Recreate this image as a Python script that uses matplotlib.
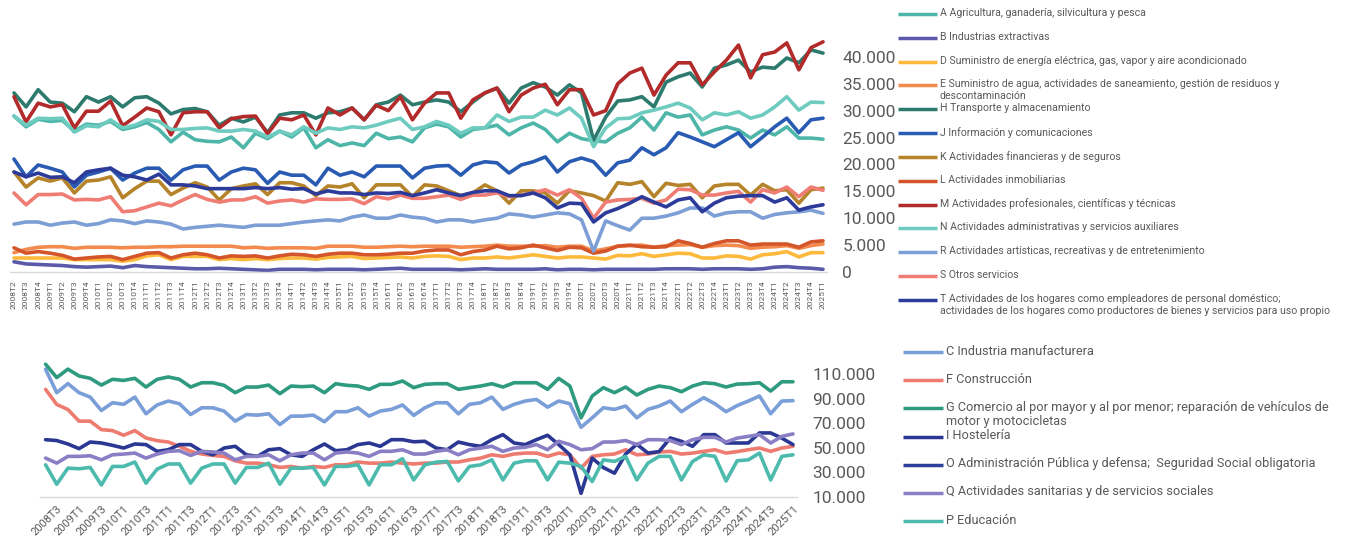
import matplotlib
matplotlib.use("Agg")
import matplotlib.pyplot as plt
from matplotlib.lines import Line2D
import numpy as np

plt.rcParams['font.family'] = ['Roboto', 'DejaVu Sans']

W, H = 1357, 538
GRAY = '#595959'
AXIS = '#D9D9D9'

# trimestres 2008T2 .. 2025T1
quarters = [f"{y}T{q}" for y in range(2008, 2026) for q in range(1, 5)][1:69]

# ---- panel superior (miles) ----
a_agri = [29.0, 27.0, 28.4, 28.0, 28.2, 26.2, 27.5, 27.3, 28.0, 26.5, 27.0, 27.8, 26.5, 24.2, 26.0, 24.6, 24.3,
          24.2, 25.1, 23.1, 25.8, 24.8, 26.2, 25.1, 26.8, 23.1, 24.6, 23.5, 24.0, 23.5, 25.8, 24.8, 25.1, 24.2,
          26.8, 27.5, 27.0, 25.1, 26.5, 26.8, 27.3, 25.5, 26.8, 27.7, 26.5, 24.2, 25.8, 24.8, 24.4, 24.2, 25.8,
          26.8, 28.8, 26.4, 29.6, 28.8, 29.2, 25.5, 26.4, 27.0, 26.4, 24.9, 26.4, 25.5, 27.0, 24.9, 24.9, 24.7]
b_extr = [1.9, 1.5, 1.4, 1.3, 1.2, 1.0, 0.9, 1.0, 1.1, 0.8, 1.2, 1.0, 0.9, 0.8, 0.7, 0.6, 0.6,
          0.7, 0.6, 0.5, 0.4, 0.3, 0.5, 0.5, 0.5, 0.4, 0.5, 0.5, 0.5, 0.4, 0.5, 0.6, 0.7, 0.5,
          0.5, 0.5, 0.5, 0.4, 0.5, 0.6, 0.5, 0.5, 0.5, 0.5, 0.6, 0.4, 0.5, 0.5, 0.4, 0.5, 0.5,
          0.5, 0.5, 0.5, 0.6, 0.6, 0.6, 0.5, 0.6, 0.6, 0.6, 0.5, 0.6, 0.9, 1.0, 0.8, 0.7, 0.5]
d_energia = [2.6, 2.6, 2.6, 2.6, 2.6, 2.3, 2.3, 2.3, 2.3, 2.0, 2.3, 3.0, 3.2, 2.3, 2.9, 2.9, 2.9,
             2.3, 2.5, 2.3, 2.5, 2.3, 2.5, 2.6, 2.6, 2.4, 2.7, 2.8, 2.9, 2.5, 2.6, 2.7, 2.8, 2.6,
             2.9, 3.0, 2.9, 2.3, 2.6, 2.6, 2.8, 2.6, 2.9, 3.2, 2.9, 2.6, 2.8, 2.8, 2.6, 2.4, 3.1,
             3.0, 3.4, 2.9, 3.2, 3.5, 3.4, 2.6, 2.6, 3.0, 2.9, 2.4, 3.2, 3.4, 3.8, 2.8, 3.6, 3.6]
e_agua = [3.6, 4.2, 4.6, 4.7, 4.7, 4.4, 4.6, 4.6, 4.6, 4.5, 4.6, 4.6, 4.7, 4.7, 4.8, 4.8, 4.8,
          4.8, 4.8, 4.5, 4.6, 4.4, 4.5, 4.5, 4.5, 4.4, 4.8, 4.8, 4.8, 4.6, 4.6, 4.7, 4.8, 4.7,
          4.8, 4.8, 4.8, 4.6, 4.7, 4.8, 5.0, 4.8, 4.8, 4.8, 4.9, 4.6, 4.8, 4.8, 3.9, 4.3, 4.8,
          4.9, 5.0, 4.6, 4.9, 5.0, 5.1, 4.6, 4.9, 5.0, 4.9, 4.4, 4.6, 4.7, 4.9, 4.4, 4.9, 5.2]
h_transp = [33.3, 30.7, 33.9, 31.6, 31.4, 29.8, 32.6, 31.6, 32.6, 30.7, 32.4, 32.6, 31.4, 29.4, 30.2, 30.4, 29.8,
            27.3, 28.6, 27.9, 28.8, 25.9, 29.2, 29.6, 29.6, 28.6, 29.6, 29.8, 30.5, 28.3, 31.1, 31.6, 32.9, 31.1,
            31.6, 32.0, 31.6, 29.8, 31.6, 33.3, 34.2, 31.4, 34.2, 35.2, 34.4, 32.9, 34.8, 33.3, 24.5, 28.8, 31.8,
            32.0, 32.6, 30.7, 35.3, 36.3, 37.0, 34.4, 37.9, 38.5, 39.4, 37.2, 38.1, 37.9, 39.8, 38.9, 41.3, 40.7]
j_info = [21.0, 17.7, 19.9, 19.3, 18.6, 15.8, 18.0, 18.6, 19.3, 17.1, 18.4, 19.3, 19.3, 17.1, 19.0, 19.7, 19.7,
          17.1, 18.6, 19.3, 19.0, 16.5, 18.6, 18.0, 18.0, 16.2, 19.3, 18.0, 18.6, 17.7, 19.7, 19.7, 19.7, 17.5,
          19.3, 19.7, 19.8, 18.0, 19.9, 20.5, 20.3, 18.4, 19.9, 20.5, 21.4, 18.6, 20.5, 21.2, 20.5, 18.0, 20.3,
          20.8, 23.1, 21.8, 23.1, 25.9, 25.1, 24.2, 23.3, 24.6, 25.9, 23.3, 25.1, 27.0, 28.6, 25.9, 28.3, 28.6]
k_finan = [18.6, 15.8, 17.5, 16.9, 17.5, 14.7, 16.9, 17.1, 17.7, 13.8, 15.5, 16.9, 16.9, 14.4, 15.6, 16.6, 15.8,
           13.4, 15.5, 16.0, 16.4, 14.4, 16.6, 16.6, 16.0, 14.2, 16.0, 15.8, 16.4, 13.8, 16.2, 16.2, 16.2, 14.0,
           16.2, 16.0, 15.1, 14.2, 14.7, 16.2, 15.1, 12.8, 15.1, 15.1, 14.7, 12.8, 15.1, 14.7, 14.2, 13.2, 16.6,
           16.3, 16.8, 14.0, 16.5, 16.1, 16.3, 13.8, 16.0, 16.3, 16.3, 14.3, 16.3, 15.1, 15.3, 12.8, 15.3, 15.6]
l_inmob = [4.5, 3.5, 3.8, 3.5, 3.1, 2.4, 2.6, 2.8, 2.9, 2.3, 2.9, 3.5, 3.6, 2.6, 3.2, 3.5, 3.2,
           2.6, 3.0, 2.9, 3.0, 2.6, 3.0, 3.3, 3.2, 2.9, 3.3, 3.5, 3.5, 3.2, 3.2, 3.3, 3.5, 3.5,
           3.9, 4.1, 4.1, 3.2, 3.8, 4.1, 4.8, 4.3, 4.5, 5.0, 4.5, 4.0, 4.6, 4.5, 3.5, 3.9, 4.8,
           5.0, 4.7, 4.6, 4.7, 5.8, 5.3, 4.6, 5.3, 5.8, 5.8, 5.0, 5.2, 5.2, 5.2, 4.6, 5.6, 5.8]
m_prof = [32.6, 27.9, 31.4, 30.7, 31.1, 26.8, 29.9, 29.9, 31.8, 27.2, 28.8, 30.5, 29.8, 25.5, 29.6, 29.8, 29.8,
          26.8, 28.5, 28.9, 29.0, 25.7, 28.6, 28.3, 29.2, 25.5, 30.5, 29.2, 30.5, 28.3, 31.0, 30.0, 32.6, 28.3,
          31.4, 33.3, 33.3, 28.6, 32.0, 33.3, 34.2, 29.8, 32.9, 34.2, 34.9, 31.1, 33.9, 33.9, 29.2, 30.0, 35.0,
          37.0, 37.9, 32.9, 36.6, 38.9, 38.9, 34.8, 37.2, 39.4, 42.2, 36.1, 40.4, 40.9, 42.6, 37.6, 41.7, 42.8]
n_admin = [29.0, 27.3, 28.6, 28.5, 28.6, 26.0, 27.2, 27.0, 28.3, 26.8, 27.3, 28.3, 28.0, 26.5, 26.5, 26.7, 26.8,
           26.2, 26.2, 26.5, 26.2, 25.1, 26.2, 25.5, 27.0, 25.8, 26.8, 26.5, 27.0, 26.8, 27.3, 28.0, 28.6, 26.5,
           27.0, 28.0, 27.3, 25.8, 26.8, 26.8, 29.2, 28.0, 28.8, 28.8, 30.1, 29.2, 30.5, 28.6, 23.3, 26.8, 28.5,
           28.6, 29.6, 30.1, 30.7, 31.4, 30.5, 28.3, 29.6, 29.2, 29.8, 28.6, 29.2, 30.7, 32.6, 30.1, 31.6, 31.5]
r_artis = [8.9, 9.3, 9.3, 8.7, 9.1, 9.3, 8.7, 9.0, 9.7, 9.5, 9.0, 9.5, 9.3, 8.9, 8.0, 8.3, 8.5,
           8.7, 8.5, 8.3, 8.7, 8.7, 8.7, 9.0, 9.3, 9.5, 9.7, 9.5, 10.2, 10.6, 10.0, 10.0, 10.6, 10.2,
           10.0, 9.3, 9.7, 9.7, 9.3, 9.7, 10.0, 10.8, 10.6, 10.2, 10.6, 11.0, 10.8, 9.7, 3.9, 9.5, 8.6,
           7.8, 10.0, 10.0, 10.4, 11.0, 11.9, 11.9, 10.4, 11.0, 11.2, 11.2, 10.0, 10.7, 11.0, 11.2, 11.5, 10.9]
s_otros = [14.7, 12.5, 14.4, 14.4, 14.5, 13.4, 13.5, 13.4, 14.0, 11.2, 11.4, 12.1, 12.8, 12.3, 13.4, 14.4, 13.5,
           13.0, 13.4, 13.4, 14.0, 12.8, 13.2, 13.4, 13.0, 13.6, 13.5, 13.5, 13.6, 12.7, 14.0, 13.6, 14.3, 13.7,
           13.7, 14.0, 14.3, 13.5, 14.3, 14.3, 14.7, 14.0, 14.3, 14.7, 15.3, 14.3, 15.3, 13.7, 10.0, 13.0, 13.4,
           13.5, 13.7, 12.8, 13.4, 15.4, 15.3, 14.3, 14.3, 14.7, 15.0, 13.0, 15.3, 14.7, 15.8, 14.0, 15.8, 15.2]
t_hogar = [18.6, 17.7, 18.4, 17.6, 17.7, 16.6, 18.6, 19.0, 19.3, 18.0, 17.7, 17.1, 18.2, 16.2, 16.2, 16.0, 15.5,
           15.5, 15.5, 15.5, 15.7, 15.5, 15.7, 15.4, 15.5, 14.5, 15.1, 14.7, 14.7, 14.4, 14.7, 14.6, 14.8, 14.2,
           14.7, 15.3, 14.7, 14.2, 14.8, 15.1, 15.1, 14.2, 14.2, 14.7, 13.8, 11.9, 12.8, 12.7, 9.3, 11.0, 11.8,
           12.8, 14.0, 13.0, 12.1, 13.4, 13.8, 11.2, 12.8, 13.8, 14.1, 14.2, 14.2, 13.0, 13.8, 11.5, 12.1, 12.5]

top_labels = [
    "A Agricultura, ganadería, silvicultura y pesca",
    "B Industrias extractivas",
    "D Suministro de energía eléctrica, gas, vapor y aire acondicionado",
    "E Suministro de agua, actividades de saneamiento, gestión de residuos y\ndescontaminación",
    "H Transporte y almacenamiento",
    "J Información y comunicaciones",
    "K Actividades financieras y de seguros",
    "L Actividades inmobiliarias",
    "M Actividades profesionales, científicas y técnicas",
    "N Actividades administrativas y servicios auxiliares",
    "R Actividades artísticas, recreativas y de entretenimiento",
    "S Otros servicios",
    "T Actividades de los hogares como empleadores de personal doméstico;\n"
    "actividades de los hogares como productores de bienes y servicios para uso propio",
]
top_values = [a_agri, b_extr, d_energia, e_agua, h_transp, j_info, k_finan,
              l_inmob, m_prof, n_admin, r_artis, s_otros, t_hogar]
top_colors = ['#4DB6A9', '#5B5AA8', '#FDB93C', '#F38B4F', '#2D7B6E', '#2A5BB3', '#B5832A',
              '#D4552A', '#B22A2A', '#6ECBBF', '#7D9FD6', '#EF7D74', '#2C3A9A']

# ---- panel inferior (miles) ----
c_industria = [114.1, 95.0, 102.4, 95.0, 91.4, 80.5, 86.8, 85.5, 91.4, 77.8, 85.0, 88.2, 86.0, 77.2, 82.7, 82.7, 80.0,
               71.8, 77.2, 76.7, 77.8, 69.0, 75.9, 75.9, 76.7, 71.3, 79.5, 79.5, 82.7, 75.9, 80.0, 81.4, 85.0, 76.5,
               82.7, 86.8, 86.8, 77.8, 85.5, 86.8, 91.4, 81.4, 85.5, 88.2, 89.5, 83.2, 88.2, 86.0, 66.8, 74.5, 82.7,
               81.4, 84.1, 74.5, 81.4, 84.1, 88.2, 79.5, 85.5, 90.9, 86.0, 79.5, 84.5, 88.2, 92.3, 77.8, 88.2, 88.5]
f_construccion = [97.7, 85.4, 81.3, 71.8, 71.8, 64.9, 64.1, 60.3, 64.1, 58.1, 55.9, 54.8, 51.3, 47.2, 45.0, 43.9, 43.1,
                  39.5, 37.6, 37.6, 36.3, 34.1, 34.9, 33.5, 34.9, 34.1, 36.3, 36.3, 38.5, 37.6, 37.6, 38.5, 37.6, 36.9,
                  37.6, 37.6, 38.5, 38.5, 40.3, 41.7, 44.4, 43.1, 45.0, 45.8, 45.8, 43.1, 45.8, 44.4, 33.5, 43.1, 44.4,
                  45.0, 48.5, 44.4, 45.0, 46.7, 47.2, 45.0, 45.8, 47.2, 48.5, 45.8, 47.0, 48.5, 49.9, 47.2, 49.9, 51.3]
g_comercio = [118.2, 107.3, 114.2, 108.6, 106.7, 101.2, 105.9, 105.0, 106.7, 99.6, 105.9, 107.8, 105.9, 99.6, 103.1,
              103.1, 101.0, 95.0, 99.6, 99.6, 101.2, 94.2, 100.4, 99.9, 100.4, 95.0, 102.3, 101.0, 100.4, 97.7, 101.8,
              101.8, 104.5, 99.1, 101.8, 102.3, 102.3, 97.7, 99.1, 100.4, 102.3, 99.6, 103.1, 103.1, 103.1, 97.7,
              106.7, 100.4, 74.5, 92.3, 99.1, 95.0, 99.6, 93.1, 97.7, 100.4, 99.1, 95.8, 100.4, 103.1, 102.3, 99.6,
              102.0, 102.3, 103.1, 96.3, 103.9, 103.9]
i_hosteleria = [56.7, 56.0, 53.2, 49.4, 54.8, 54.0, 52.1, 49.9, 53.2, 52.7, 47.2, 48.5, 52.7, 52.7, 47.2, 44.4, 49.9,
                51.3, 44.4, 43.1, 48.5, 49.4, 44.4, 43.1, 48.5, 53.2, 47.7, 48.5, 52.7, 54.0, 51.3, 56.7, 56.7, 55.0,
                55.4, 49.9, 48.5, 54.8, 52.7, 51.3, 56.7, 60.8, 54.0, 52.7, 56.7, 60.3, 52.7, 44.4, 13.0, 41.7, 34.0,
                29.4, 45.0, 53.0, 45.8, 47.0, 58.1, 55.4, 51.3, 60.8, 60.8, 54.0, 54.0, 54.0, 62.2, 62.2, 58.0, 52.7]
o_admin_publica = []  # serie sin valores visibles en el grafico
q_sanitarias = [41.7, 37.6, 43.1, 43.1, 43.6, 40.3, 44.4, 45.0, 45.8, 41.7, 45.0, 47.2, 47.7, 43.9, 47.2, 46.7, 45.8,
                40.3, 43.1, 43.1, 44.4, 39.5, 44.4, 45.8, 45.8, 40.3, 45.8, 46.7, 45.8, 43.1, 47.2, 47.2, 48.5, 45.0,
                45.0, 47.2, 48.5, 44.4, 48.5, 49.9, 51.3, 47.2, 49.9, 50.5, 52.7, 48.5, 55.4, 52.7, 48.5, 49.4, 54.8,
                54.8, 56.0, 52.7, 56.7, 56.7, 56.0, 52.7, 56.7, 58.6, 58.6, 54.8, 58.0, 59.4, 60.8, 54.0, 59.4, 61.4]
p_educacion = [36.2, 20.4, 33.5, 33.0, 34.1, 19.8, 34.9, 34.9, 38.5, 21.3, 32.7, 36.9, 36.9, 21.3, 33.5, 36.9, 36.9,
               21.3, 34.1, 34.1, 37.6, 20.4, 33.5, 33.5, 34.1, 19.8, 34.9, 34.9, 36.3, 19.8, 36.3, 36.3, 41.2, 23.9,
               36.2, 38.4, 39.0, 23.1, 34.9, 36.2, 40.3, 23.9, 37.6, 39.5, 39.5, 23.9, 38.4, 37.6, 34.9, 22.6, 40.3,
               39.0, 43.1, 23.9, 37.6, 43.1, 43.1, 23.9, 39.0, 44.4, 43.1, 23.1, 39.5, 40.3, 45.8, 23.9, 43.1, 44.4]

bottom_labels = [
    "C Industria manufacturera",
    "F Construcción",
    "G Comercio al por mayor y al por menor; reparación de vehículos de\nmotor y motocicletas",
    "I Hostelería",
    "O Administración Pública y defensa;  Seguridad Social obligatoria",
    "Q Actividades sanitarias y de servicios sociales",
    "P Educación",
]
bottom_values = [c_industria, f_construccion, g_comercio, i_hosteleria,
                 o_admin_publica, q_sanitarias, p_educacion]
bottom_colors = ['#7A9ED8', '#EE7B6F', '#2E9A80', '#2B3893', '#2E3F9C', '#8A7FC5', '#4CBBAD']


def miles(v):
    return f"{int(v):,}".replace(",", ".")


def style_axis(ax):
    for s in ['top', 'left', 'right']:
        ax.spines[s].set_visible(False)
    ax.spines['bottom'].set_color(AXIS)
    ax.spines['bottom'].set_linewidth(1)
    ax.yaxis.tick_right()
    ax.tick_params(axis='y', length=0, pad=11, labelsize=12.5, labelcolor=GRAY)
    ax.tick_params(axis='x', length=0, labelcolor=GRAY)


def manual_legend(fig, labels, colors, x0, x1, y0, dy, fs, spacing):
    em = fs * 100 / 72
    for k, (lab, col) in enumerate(zip(labels, colors)):
        y = y0 + k * dy
        fig.add_artist(Line2D([x0 / W, x1 / W], [1 - y / H, 1 - y / H], transform=fig.transFigure,
                              color=col, lw=2.5, solid_capstyle='butt'))
        fig.text((x1 + 3) / W, 1 - (y - 0.58 * em) / H, lab, fontsize=fs, color=GRAY,
                 va='top', ha='left', linespacing=spacing)


fig = plt.figure(figsize=(W / 100, H / 100), dpi=100)

# panel superior
ax1 = fig.add_axes([10 / W, 1 - 272 / H, (827 - 10) / W, (272 - 30) / H])
x = np.arange(len(quarters))
for vals, col in zip(top_values, top_colors):
    ax1.plot(x, np.array(vals) * 1000, color=col, lw=2.6,
             solid_joinstyle='round', solid_capstyle='round')
ax1.set_xlim(-0.33, len(quarters) - 1 + 0.33)
ax1.set_ylim(0, 45000)
style_axis(ax1)
ax1.set_xticks(x)
ax1.set_xticklabels(quarters, rotation=90, fontsize=6, va='bottom')
ax1.tick_params(axis='x', pad=26.5)
yt1 = list(range(0, 40001, 5000))
ax1.set_yticks(yt1)
ax1.set_yticklabels([miles(v) for v in yt1])

# panel inferior
ax2 = fig.add_axes([40 / W, 1 - 497 / H, (797 - 40) / W, (497 - 362) / H])
for vals, col in zip(bottom_values, bottom_colors):
    if len(vals):
        ax2.plot(x, np.array(vals) * 1000, color=col, lw=2.6,
                 solid_joinstyle='round', solid_capstyle='round')
ax2.set_xlim(-0.5, len(quarters) - 1 + 0.36)
ax2.set_ylim(10000, 120000)
style_axis(ax2)
ax2.set_xticks(x[1::2])
ax2.set_xticklabels(quarters[1::2], rotation=45, fontsize=8, ha='right', va='top',
                    rotation_mode='anchor')
ax2.tick_params(axis='x', pad=5)
yt2 = list(range(10000, 110001, 20000))
ax2.set_yticks(yt2)
ax2.set_yticklabels([miles(v) for v in yt2])

manual_legend(fig, top_labels, top_colors, 898, 937, 14, 23.83, 7.6, 1.25)
manual_legend(fig, bottom_labels, bottom_colors, 903, 943, 352, 28.17, 9.2, 1.15)

fig.savefig('out.png', dpi=100)
